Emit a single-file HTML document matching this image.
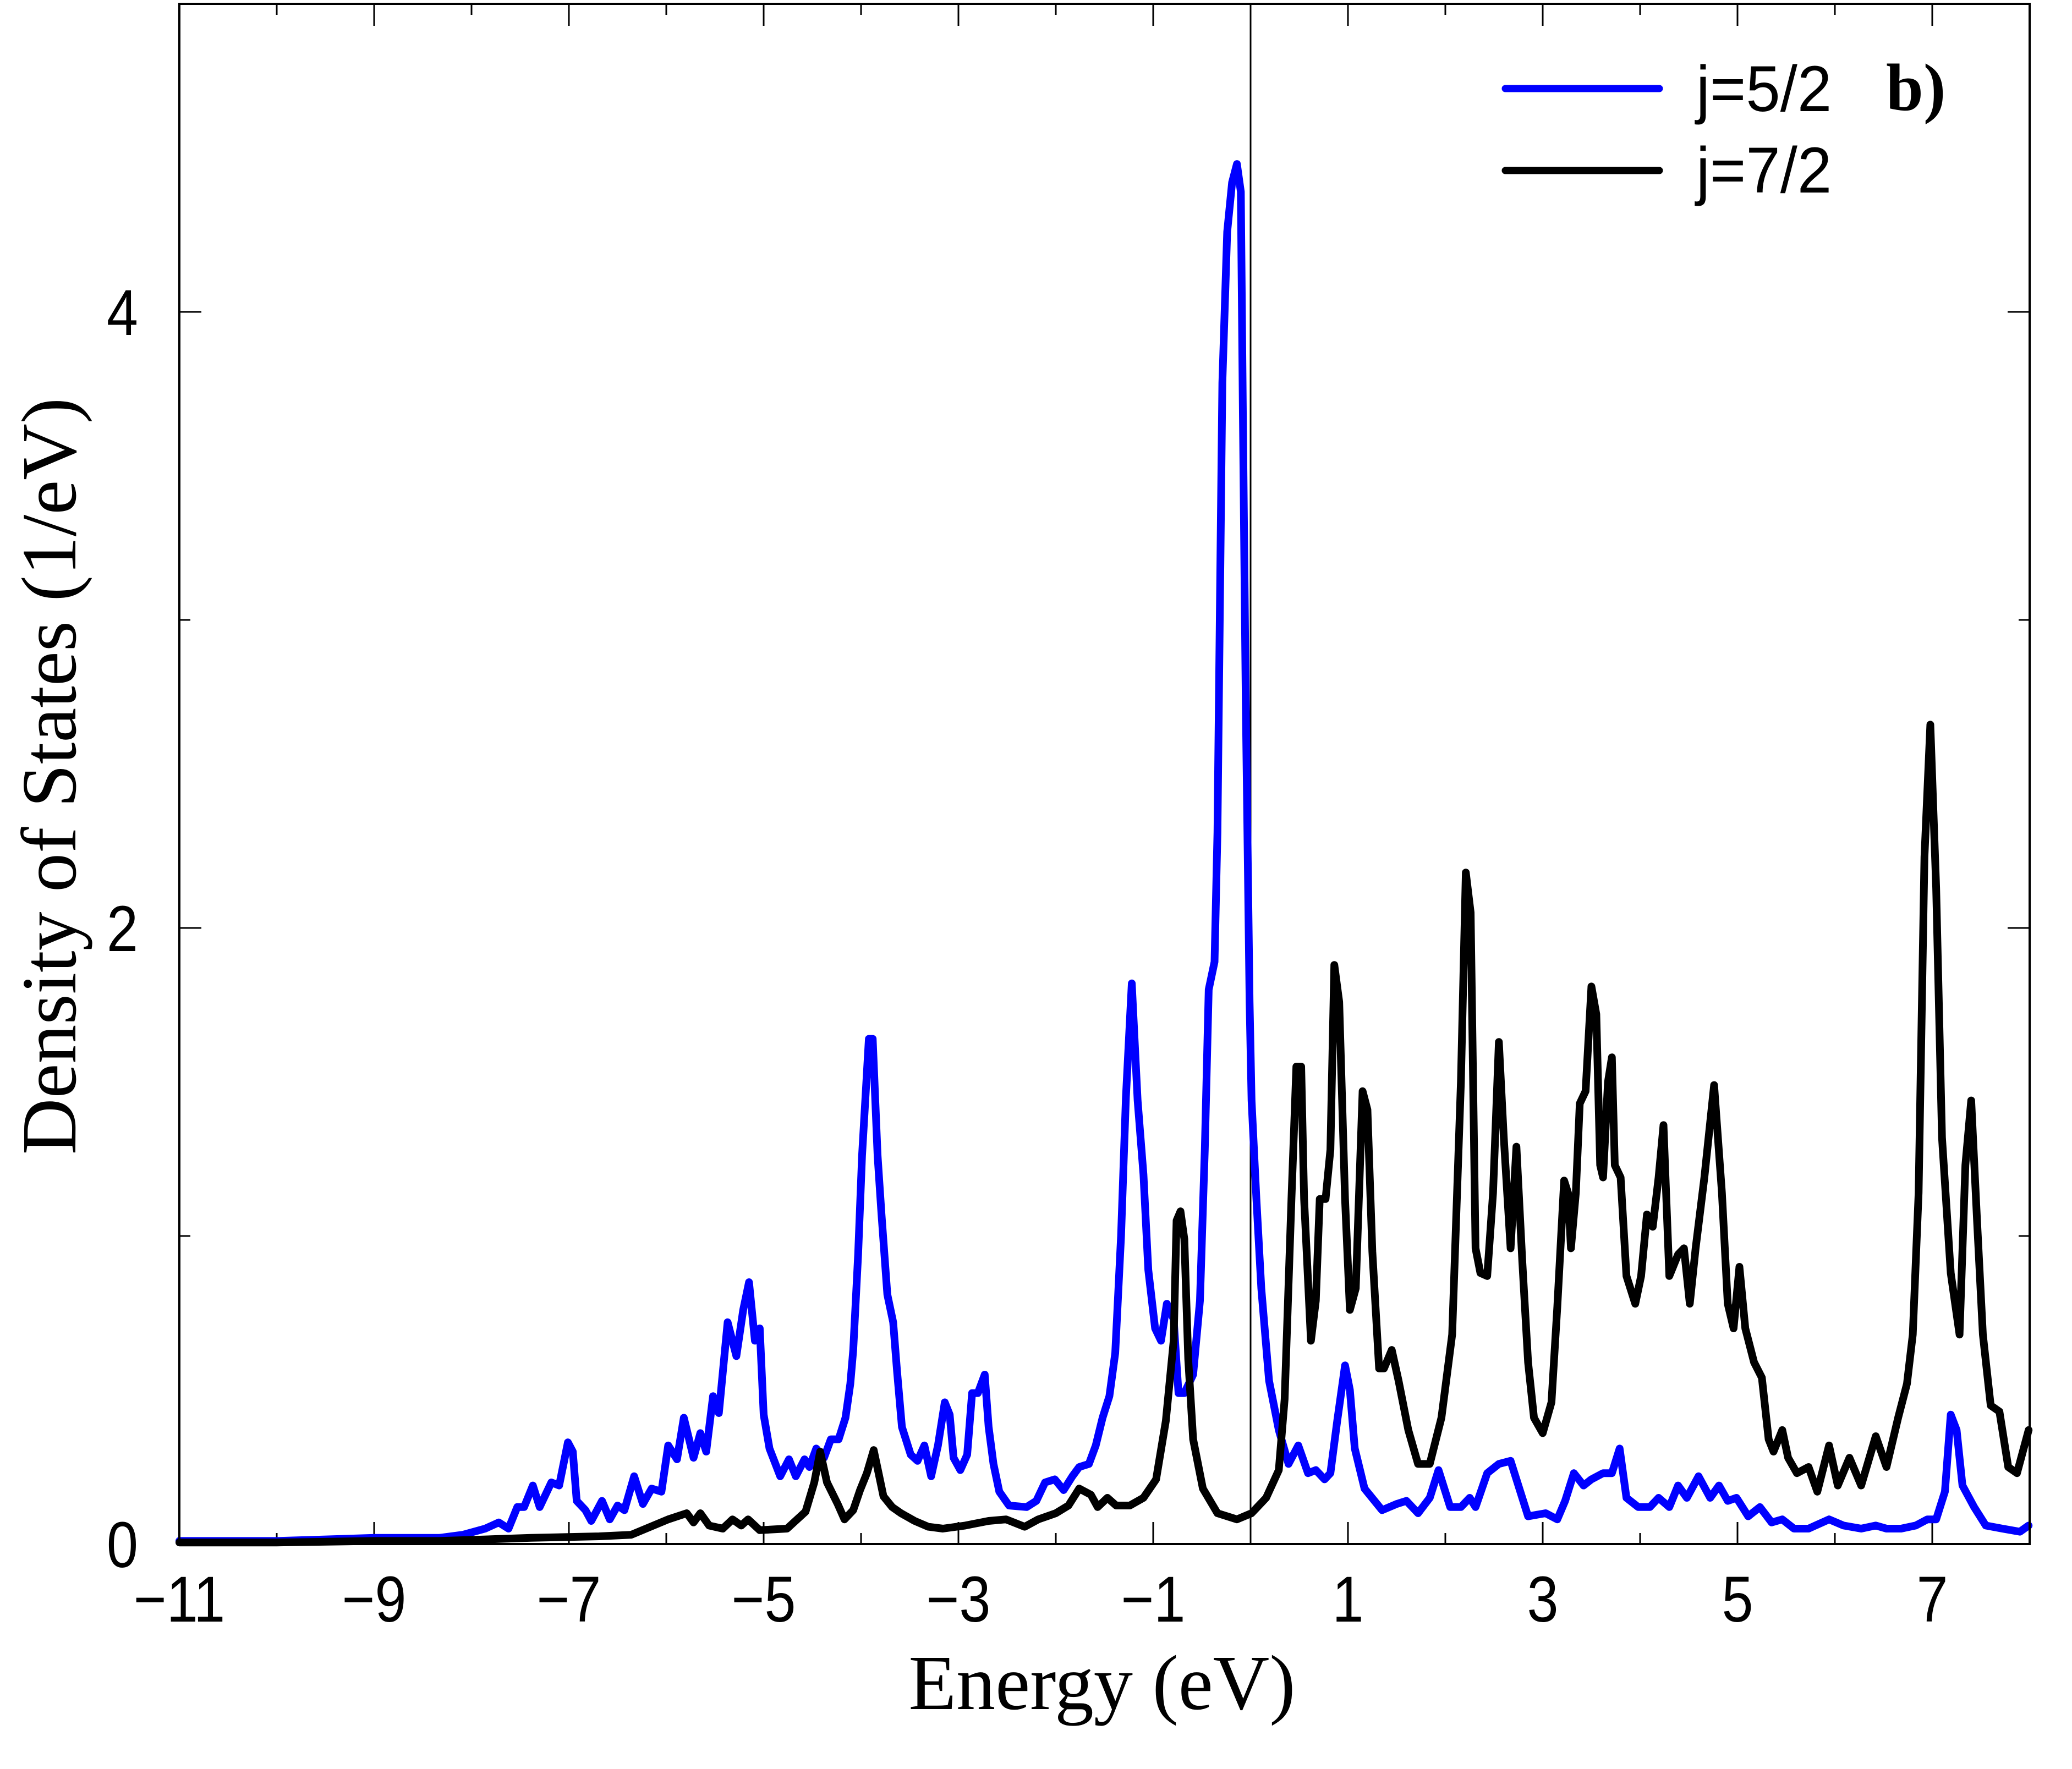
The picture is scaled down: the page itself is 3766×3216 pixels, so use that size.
<!DOCTYPE html>
<html>
<head>
<meta charset="utf-8">
<style>
html,body{margin:0;padding:0;background:#fff;}
svg{display:block;}
</style>
</head>
<body>
<svg id="chart" xmlns="http://www.w3.org/2000/svg" width="3766" height="3216" viewBox="0 0 3766 3216">
  <rect x="0" y="0" width="3766" height="3216" fill="#fff"/>
  <g id="ticks"></g>
  <g id="series"></g>
  <rect x="326" y="7" width="3363" height="2800" fill="none" stroke="#000" stroke-width="4"/>
  <g id="labels" font-family="Liberation Sans, sans-serif" font-size="118" fill="#000"></g>
  <text x="2003" y="3107" text-anchor="middle" font-family="Liberation Serif, serif" font-size="142">Energy (eV)</text>
  <text transform="translate(137,1411) rotate(-90)" text-anchor="middle" font-family="Liberation Serif, serif" font-size="142">Density of States (1/eV)</text>
  <g>
    <line x1="2736" y1="161" x2="3016" y2="161" stroke="#0000ff" stroke-width="13" stroke-linecap="round"/>
    <text x="3083" y="202" font-family="Liberation Sans, sans-serif" font-size="118" transform="translate(3083,0) scale(0.95,1) translate(-3083,0)">j=5/2</text>
    <text x="3428" y="200" font-family="Liberation Serif, serif" font-weight="bold" font-size="122">b)</text>
    <line x1="2736" y1="310" x2="3016" y2="310" stroke="#000" stroke-width="13" stroke-linecap="round"/>
    <text x="3083" y="350" font-family="Liberation Sans, sans-serif" font-size="118" transform="translate(3083,0) scale(0.95,1) translate(-3083,0)">j=7/2</text>
  </g>
</svg>
<script>
const xTickValues = [-11,-10,-9,-8,-7,-6,-5,-4,-3,-2,-1,0,1,2,3,4,5,6,7,8];
const xTickLabels = ["\u221211","\u22129","\u22127","\u22125","\u22123","\u22121","1","3","5","7"];
const xLabelValues = [-11,-9,-7,-5,-3,-1,1,3,5,7];
const yTickValues = [0,1,2,3,4];
const yLabelValues = [0,2,4];
const yTickLabels = ["0","2","4"];

const blueE = [-11,-10,-9,-8.33,-8.09,-7.86,-7.72,-7.62,-7.53,-7.46,-7.37,-7.30,-7.18,-7.1,-7.01,-6.96,-6.92,-6.83,-6.77,-6.66,-6.58,-6.5,-6.43,-6.33,-6.24,-6.15,-6.05,-5.98,-5.89,-5.82,-5.72,-5.65,-5.59,-5.52,-5.46,-5.37,-5.28,-5.21,-5.15,-5.09,-5.04,-5.0,-4.94,-4.83,-4.74,-4.67,-4.58,-4.53,-4.46,-4.38,-4.31,-4.23,-4.16,-4.11,-4.08,-4.03,-3.99,-3.92,-3.88,-3.83,-3.79,-3.73,-3.67,-3.63,-3.58,-3.53,-3.49,-3.42,-3.35,-3.28,-3.21,-3.14,-3.09,-3.05,-2.98,-2.91,-2.86,-2.8,-2.73,-2.69,-2.64,-2.58,-2.48,-2.3,-2.2,-2.11,-2.01,-1.92,-1.83,-1.76,-1.66,-1.59,-1.52,-1.45,-1.39,-1.33,-1.28,-1.22,-1.16,-1.1,-1.05,-0.98,-0.92,-0.86,-0.79,-0.74,-0.68,-0.59,-0.52,-0.47,-0.43,-0.37,-0.34,-0.29,-0.24,-0.19,-0.14,-0.10,-0.08,-0.05,-0.01,0.01,0.06,0.11,0.19,0.29,0.39,0.49,0.59,0.67,0.76,0.82,0.89,0.97,1.02,1.07,1.17,1.35,1.5,1.6,1.72,1.84,1.93,2.05,2.16,2.25,2.31,2.43,2.55,2.67,2.85,3.03,3.15,3.23,3.32,3.42,3.5,3.62,3.71,3.79,3.86,3.98,4.1,4.19,4.3,4.39,4.48,4.6,4.72,4.81,4.9,4.99,5.11,5.23,5.35,5.46,5.58,5.73,5.94,6.09,6.27,6.42,6.53,6.68,6.83,6.95,7.04,7.13,7.19,7.25,7.31,7.43,7.55,7.72,7.9,7.99];
const blueDos = [0.01,0.01,0.02,0.02,0.03,0.05,0.07,0.05,0.12,0.12,0.19,0.12,0.2,0.19,0.33,0.3,0.14,0.11,0.075,0.14,0.08,0.125,0.11,0.22,0.13,0.18,0.17,0.32,0.275,0.41,0.28,0.36,0.3,0.48,0.425,0.72,0.61,0.76,0.85,0.66,0.7,0.42,0.31,0.22,0.275,0.22,0.275,0.25,0.31,0.28,0.34,0.34,0.41,0.52,0.63,0.94,1.26,1.64,1.64,1.26,1.07,0.81,0.72,0.56,0.38,0.33,0.29,0.27,0.32,0.22,0.32,0.46,0.42,0.28,0.24,0.29,0.49,0.49,0.55,0.38,0.26,0.17,0.125,0.12,0.14,0.2,0.21,0.175,0.22,0.25,0.26,0.32,0.41,0.48,0.62,1.0,1.45,1.82,1.44,1.2,0.89,0.7,0.66,0.78,0.73,0.49,0.49,0.55,0.79,1.28,1.8,1.89,2.31,3.77,4.26,4.42,4.48,4.39,3.71,2.74,1.76,1.44,1.12,0.83,0.53,0.37,0.26,0.32,0.23,0.24,0.21,0.23,0.4,0.58,0.5,0.31,0.18,0.11,0.13,0.14,0.1,0.15,0.24,0.12,0.12,0.15,0.12,0.23,0.26,0.27,0.09,0.1,0.08,0.14,0.23,0.19,0.21,0.23,0.23,0.31,0.15,0.12,0.12,0.15,0.12,0.19,0.15,0.22,0.15,0.19,0.14,0.15,0.09,0.12,0.07,0.08,0.05,0.05,0.08,0.06,0.05,0.06,0.05,0.05,0.06,0.08,0.08,0.17,0.42,0.37,0.19,0.12,0.06,0.05,0.04,0.06];

const blackE = [-11,-10,-9,-8.33,-7.39,-6.69,-6.36,-6.17,-5.98,-5.79,-5.72,-5.65,-5.56,-5.42,-5.32,-5.23,-5.16,-5.04,-4.76,-4.57,-4.48,-4.42,-4.35,-4.24,-4.17,-4.08,-4.01,-3.94,-3.87,-3.82,-3.77,-3.68,-3.59,-3.45,-3.31,-3.16,-2.93,-2.69,-2.51,-2.32,-2.18,-2.0,-1.87,-1.76,-1.64,-1.57,-1.47,-1.38,-1.24,-1.1,-0.97,-0.87,-0.79,-0.76,-0.72,-0.68,-0.64,-0.59,-0.49,-0.34,-0.14,0.01,0.16,0.29,0.35,0.42,0.47,0.52,0.55,0.62,0.67,0.71,0.77,0.82,0.86,0.91,0.97,1.02,1.08,1.15,1.2,1.25,1.32,1.37,1.45,1.52,1.62,1.72,1.84,1.96,2.07,2.16,2.21,2.26,2.31,2.36,2.43,2.49,2.55,2.6,2.67,2.73,2.79,2.85,2.91,3.0,3.09,3.15,3.22,3.26,3.29,3.34,3.38,3.44,3.5,3.55,3.59,3.62,3.67,3.71,3.74,3.8,3.86,3.95,4.01,4.07,4.13,4.19,4.24,4.3,4.39,4.45,4.51,4.57,4.66,4.76,4.84,4.9,4.96,5.02,5.08,5.17,5.25,5.32,5.37,5.46,5.52,5.61,5.73,5.82,5.94,6.03,6.15,6.27,6.42,6.53,6.65,6.74,6.8,6.86,6.92,6.98,7.04,7.1,7.19,7.28,7.34,7.4,7.46,7.52,7.6,7.69,7.78,7.87,7.99];
const blackDos = [0.005,0.005,0.01,0.01,0.02,0.025,0.03,0.055,0.08,0.1,0.07,0.1,0.06,0.05,0.08,0.06,0.08,0.045,0.05,0.105,0.2,0.3,0.2,0.13,0.08,0.11,0.175,0.23,0.305,0.23,0.155,0.12,0.1,0.075,0.056,0.05,0.06,0.075,0.08,0.056,0.08,0.1,0.125,0.18,0.16,0.12,0.15,0.125,0.125,0.15,0.21,0.4,0.66,1.05,1.08,0.99,0.6,0.34,0.18,0.1,0.08,0.1,0.15,0.24,0.47,1.12,1.55,1.55,1.12,0.66,0.79,1.12,1.12,1.28,1.88,1.76,1.12,0.76,0.83,1.47,1.41,0.95,0.57,0.57,0.63,0.53,0.37,0.26,0.26,0.41,0.68,1.5,2.18,2.05,0.96,0.88,0.87,1.14,1.63,1.32,0.96,1.29,0.92,0.59,0.41,0.36,0.46,0.77,1.18,1.14,0.96,1.14,1.43,1.47,1.81,1.72,1.23,1.19,1.5,1.58,1.23,1.19,0.87,0.78,0.87,1.07,1.03,1.19,1.36,0.87,0.94,0.96,0.78,0.96,1.19,1.49,1.14,0.78,0.7,0.9,0.7,0.59,0.54,0.34,0.3,0.37,0.28,0.23,0.25,0.17,0.32,0.19,0.28,0.19,0.35,0.25,0.41,0.52,0.68,1.14,2.23,2.66,2.13,1.32,0.88,0.68,1.23,1.44,1.05,0.68,0.45,0.43,0.25,0.23,0.37];

const X0 = 326, X1 = 3689, Y0 = 2807, Y1 = 7;
const xMin = -11, xMax = 8, yMin = 0, yMax = 5;
function xScale(v){ return X0 + (v - xMin) / (xMax - xMin) * (X1 - X0); }
function yScale(v){ return Y0 - (v - yMin) / (yMax - yMin) * (Y0 - Y1); }
const NS = "http://www.w3.org/2000/svg";

const ticks = document.getElementById('ticks');
xTickValues.forEach(function(v){
  const major = Math.abs(v % 2) === 1;
  const len = major ? 40 : 20;
  const x = xScale(v);
  const b = document.createElementNS(NS,'line');
  b.setAttribute('x1',x); b.setAttribute('x2',x);
  b.setAttribute('y1',Y0); b.setAttribute('y2',Y0-len);
  b.setAttribute('stroke','#000'); b.setAttribute('stroke-width','3');
  
  
  ticks.appendChild(b);
  const t = document.createElementNS(NS,'line');
  t.setAttribute('x1',x); t.setAttribute('x2',x);
  t.setAttribute('y1',Y1); t.setAttribute('y2',Y1+len);
  t.setAttribute('stroke','#000'); t.setAttribute('stroke-width','3');
  
  
  ticks.appendChild(t);
});
yTickValues.forEach(function(v){
  const len = (v % 2 === 0) ? 40 : 20;
  const y = yScale(v);
  const l = document.createElementNS(NS,'line');
  l.setAttribute('x1',X0); l.setAttribute('x2',X0+len);
  l.setAttribute('y1',y); l.setAttribute('y2',y);
  l.setAttribute('stroke','#000'); l.setAttribute('stroke-width','3');
  
  
  ticks.appendChild(l);
  const r = document.createElementNS(NS,'line');
  r.setAttribute('x1',X1); r.setAttribute('x2',X1-len);
  r.setAttribute('y1',y); r.setAttribute('y2',y);
  r.setAttribute('stroke','#000'); r.setAttribute('stroke-width','3');
  
  
  ticks.appendChild(r);
});
const zl = document.createElementNS(NS,'line');
zl.setAttribute('x1',xScale(0)); zl.setAttribute('x2',xScale(0));
zl.setAttribute('y1',Y1); zl.setAttribute('y2',Y0);
zl.setAttribute('stroke','#000'); zl.setAttribute('stroke-width','3');


ticks.appendChild(zl);

const labels = document.getElementById('labels');
xLabelValues.forEach(function(v,i){
  const x = xScale(v);
  const t = document.createElementNS(NS,'text');
  t.setAttribute('text-anchor','middle');
  t.setAttribute('transform','translate('+x+',2948) scale(0.87,1)');
  t.textContent = xTickLabels[i];
  
  
  labels.appendChild(t);
});
yLabelValues.forEach(function(v,i){
  const y = yScale(v) + 42;
  const t = document.createElementNS(NS,'text');
  t.setAttribute('text-anchor','end');
  t.setAttribute('transform','translate(251,'+y+') scale(0.87,1)');
  t.textContent = yTickLabels[i];
  
  
  labels.appendChild(t);
});

function drawSeries(es, ds, color, name){
  let d = '';
  for (let i = 0; i < es.length; i++){
    d += (i ? 'L' : 'M') + xScale(es[i]).toFixed(1) + ',' + yScale(ds[i]).toFixed(1);
  }
  const p = document.createElementNS(NS,'path');
  p.setAttribute('d', d);
  p.setAttribute('fill','none');
  p.setAttribute('stroke', color);
  p.setAttribute('stroke-width','14');
  p.setAttribute('stroke-linejoin','round');
  p.setAttribute('stroke-linecap','round');
  
  
  document.getElementById('series').appendChild(p);
}
drawSeries(blueE, blueDos, '#0000ff', 'series-j52');
drawSeries(blackE, blackDos, '#000000', 'series-j72');
</script>
</body>
</html>
